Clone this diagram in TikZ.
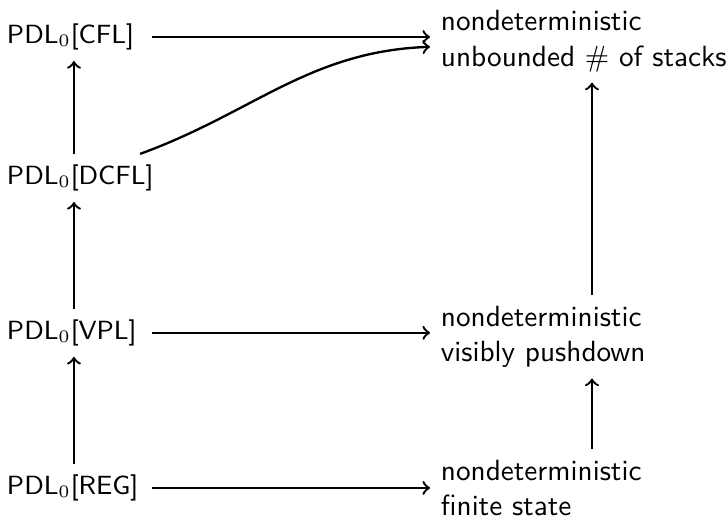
\documentclass[tikz,border=0pt]{standalone}
\renewcommand{\familydefault}{\sfdefault}
\begin{document}
\begin{tikzpicture}[->,thick]
	\tikzset{logic/.style={text width=1.61cm,align=left,font=\small},
		machine/.style={text width=3.63cm,align=left}}
	\useasboundingbox (0,0) rectangle (8.75,-6.226);
	% logics
	\node[logic] (reg) at (0.889,-5.865) {PDL$_0$[REG]};
	\node[logic] (vpl) at (0.889,-4.0) {PDL$_0$[VPL]};
	\node[logic] (dcfl) at (0.889,-2.139) {PDL$_0$[DCFL]};
	\node[logic] (cfl) at (0.889,-0.445) {PDL$_0$[CFL]};
	% automata
	\node[machine] (fin) at (7.115,-5.865) {nondeterministic\\finite state};
	\node[machine] (vis) at (7.115,-4.05) {nondeterministic\\visibly pushdown};
	\node[machine] (unb) at (7.115,-0.495) {nondeterministic\\unbounded $\#$ of stacks};
	\draw (reg) -- (vpl);
	\draw (vpl) -- (dcfl);
	\draw (dcfl) -- (cfl);
	\draw (fin) -- (vis);
	\draw (vis) -- (unb);
	\draw (reg) -- (reg -| fin.west);
	\draw (vpl) -- (vpl -| vis.west);
	\draw (cfl) -- (cfl -| unb.west);
	\draw (dcfl) to[out=20,in=182] (unb);
\end{tikzpicture}
\end{document}
